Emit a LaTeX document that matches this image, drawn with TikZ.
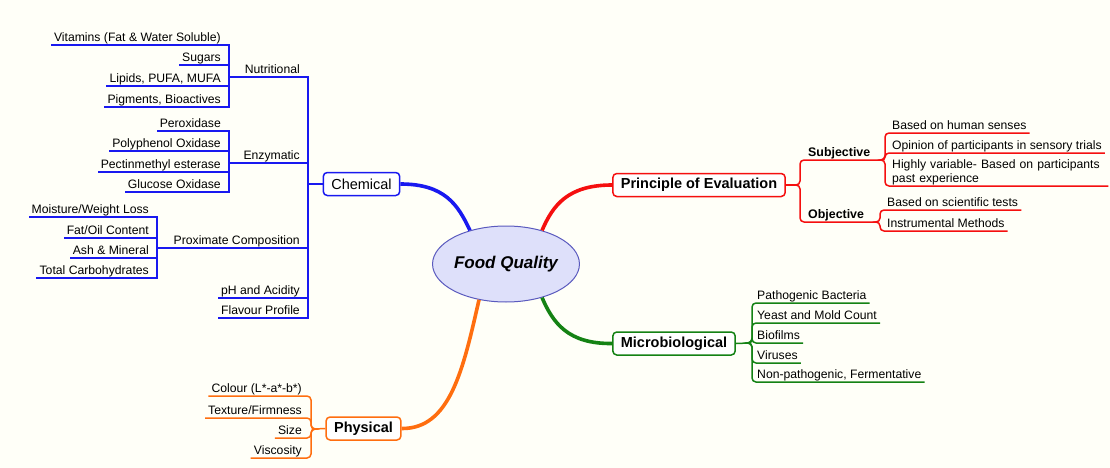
\documentclass[tikz,border=0pt]{standalone}
\usepackage{fontspec}
\setmainfont{Liberation Sans}
\usetikzlibrary{shapes.geometric}

\definecolor{bgcol}{RGB}{255,255,248}
\definecolor{chemblue}{RGB}{25,25,240}
\definecolor{evalred}{RGB}{245,15,15}
\definecolor{microgreen}{RGB}{20,130,20}
\definecolor{physorange}{RGB}{255,110,15}
\definecolor{hubfill}{RGB}{222,224,250}
\definecolor{hubline}{RGB}{90,90,190}

\newcommand{\leaffont}{\fontsize{12.2}{14}\selectfont}
\newcommand{\subfont}{\fontsize{12.4}{14}\selectfont\bfseries}
\newcommand{\branchfont}{\fontsize{14.5}{17}\selectfont}
\newcommand{\hubfont}{\fontsize{17}{20}\selectfont\bfseries\itshape}

\begin{document}
\begin{tikzpicture}[x=1pt, y=-1pt,
  leaf/.style={font=\leaffont, inner xsep=3pt, inner ysep=1pt, text depth=2.6pt},
  twig/.style={line width=1.5pt},
  branch/.style={draw, line width=1.5pt, rounded corners=4pt, fill=white, inner xsep=8pt, minimum height=23pt},
  limb/.style={line width=3.6pt}]

  % Background and page size
  \fill[bgcol] (0,0) rectangle (1110,468);
  \useasboundingbox (0,0) rectangle (1110,468);

  % Central topic
  \node[ellipse, draw=hubline, line width=1pt, fill=hubfill, minimum width=146pt, minimum height=76pt, inner sep=0pt, font=\hubfont] (fq) at (506,264) {Food Quality};

  % Main branches
  \node[branch, draw=chemblue, font=\branchfont] (chem) at (361.5,184) {Chemical};
  \node[branch, draw=evalred, font=\branchfont\bfseries] (prin) at (699,185) {Principle of Evaluation};
  \node[branch, draw=microgreen, font=\branchfont\bfseries] (micro) at (674,343.5) {Microbiological};
  \node[branch, draw=physorange, font=\branchfont\bfseries] (phys) at (363.5,428.5) {Physical};

  % Thick curves from the centre
  \draw[limb, chemblue] (fq.137) .. controls (458,205) and (445,184) .. (chem.east);
  \draw[limb, evalred] (fq.43) .. controls (553,205) and (568,185) .. (prin.west);
  \draw[limb, microgreen] (fq.-43) .. controls (553,323) and (568,344) .. (micro.west);
  \draw[limb, physorange] (fq.233) .. controls (463,370) and (450,429) .. (phys.east);

  % Chemical
  \coordinate (chj) at (308,184);
  \draw[twig, chemblue] (chem.west) -- (chj);

  % Nutritional
  \coordinate (nutj) at (229,77);
  \node[leaf, anchor=south east] (nut) at (303,77) {Nutritional};
  \draw[twig, chemblue] (chj) |- (nutj);
  \foreach \nm/\yy/\txt in {vit/45/{Vitamins (Fat \& Water Soluble)}, sug/65/Sugars, lip/86/{Lipids, PUFA, MUFA}, pig/107/{Pigments, Bioactives}} {
    \node[leaf, anchor=south east] (\nm) at (224,\yy) {\txt};
    \draw[twig, chemblue] (nutj) |- (\nm.south west);
  }

  % Enzymatic
  \coordinate (enzj) at (229,163);
  \node[leaf, anchor=south east] (enz) at (303,163) {Enzymatic};
  \draw[twig, chemblue] (chj) |- (enzj);
  \foreach \nm/\yy/\txt in {per/131/Peroxidase, ppo/151/{Polyphenol Oxidase}, pme/172/{Pectinmethyl esterase}, gox/192/{Glucose Oxidase}} {
    \node[leaf, anchor=south east] (\nm) at (224,\yy) {\txt};
    \draw[twig, chemblue] (enzj) |- (\nm.south west);
  }

  % Proximate composition
  \coordinate (proj) at (157,248);
  \node[leaf, anchor=south east] (prox) at (303,248) {Proximate Composition};
  \draw[twig, chemblue] (chj) |- (proj);
  \foreach \nm/\yy/\txt in {mwl/217/{Moisture/Weight Loss}, foc/238/{Fat/Oil Content}, ash/258/{Ash \& Mineral}, carb/278/{Total Carbohydrates}} {
    \node[leaf, anchor=south east] (\nm) at (152,\yy) {\txt};
    \draw[twig, chemblue] (proj) |- (\nm.south west);
  }

  % pH and flavour
  \node[leaf, anchor=south east] (ph) at (303,298) {pH and Acidity};
  \node[leaf, anchor=south east] (flv) at (303,318) {Flavour Profile};
  \draw[twig, chemblue] (chj) |- (ph.south west);
  \draw[twig, chemblue] (chj) |- (flv.south west);

  % Physical
  \coordinate (physj) at (314,429);
  \draw[twig, physorange] (phys.west) -- (physj);
  \foreach \nm/\yy/\txt in {col/396/{Colour (L*-a*-b*)}, tex/418/{Texture/Firmness}, size/438/Size, visc/458/Viscosity} {
    \node[leaf, anchor=south east] (\nm) at (305,\yy) {\txt};
    \draw[twig, physorange, rounded corners=4pt] (physj) -- ++(-3,0) |- (\nm.south west);
  }

  % Principle of evaluation
  \coordinate (prj) at (797,185);
  \coordinate (subj) at (882,160);
  \coordinate (objj) at (877,222);
  \draw[twig, evalred] (prin.east) -- (prj);
  \node[leaf, font=\subfont, anchor=south west] (sub) at (805,160) {Subjective};
  \node[leaf, font=\subfont, anchor=south west] (obj) at (805,222) {Objective};
  \draw[twig, evalred, rounded corners=4pt] (prj) -- ++(3,0) |- (subj);
  \draw[twig, evalred, rounded corners=4pt] (prj) -- ++(3,0) |- (objj);
  \foreach \nm/\yy/\txt in {hs/133/{Based on human senses}, ops/153/{Opinion of participants in sensory trials}} {
    \node[leaf, anchor=south west] (\nm) at (889,\yy) {\txt};
    \draw[twig, evalred, rounded corners=4pt] (subj) -- ++(3,0) |- (\nm.south east);
  }
  \node[font=\leaffont, inner xsep=3pt, inner ysep=1pt, text width=213pt, align=left, anchor=south west] (hv) at (889,186) {Highly variable- Based on participants\\past experience};
  \draw[twig, evalred, rounded corners=4pt] (subj) -- ++(3,0) |- (hv.south east);
  \foreach \nm/\yy/\txt in {bst/210/{Based on scientific tests}, ins/231/{Instrumental Methods}} {
    \node[leaf, anchor=south west] (\nm) at (884,\yy) {\txt};
    \draw[twig, evalred, rounded corners=4pt] (objj) -- ++(3,0) |- (\nm.south east);
  }

  % Microbiological
  \coordinate (mj) at (749,343);
  \draw[twig, microgreen] (micro.east) -- (mj);
  \foreach \nm/\yy/\txt in {pb/303/{Pathogenic Bacteria}, ymc/323/{Yeast and Mold Count}, bio/343/Biofilms, vir/363/Viruses, nonp/382/{Non-pathogenic, Fermentative}} {
    \node[leaf, anchor=south west] (\nm) at (754,\yy) {\txt};
    \draw[twig, microgreen, rounded corners=4pt] (mj) -- ++(3,0) |- (\nm.south east);
  }
\end{tikzpicture}
\end{document}
